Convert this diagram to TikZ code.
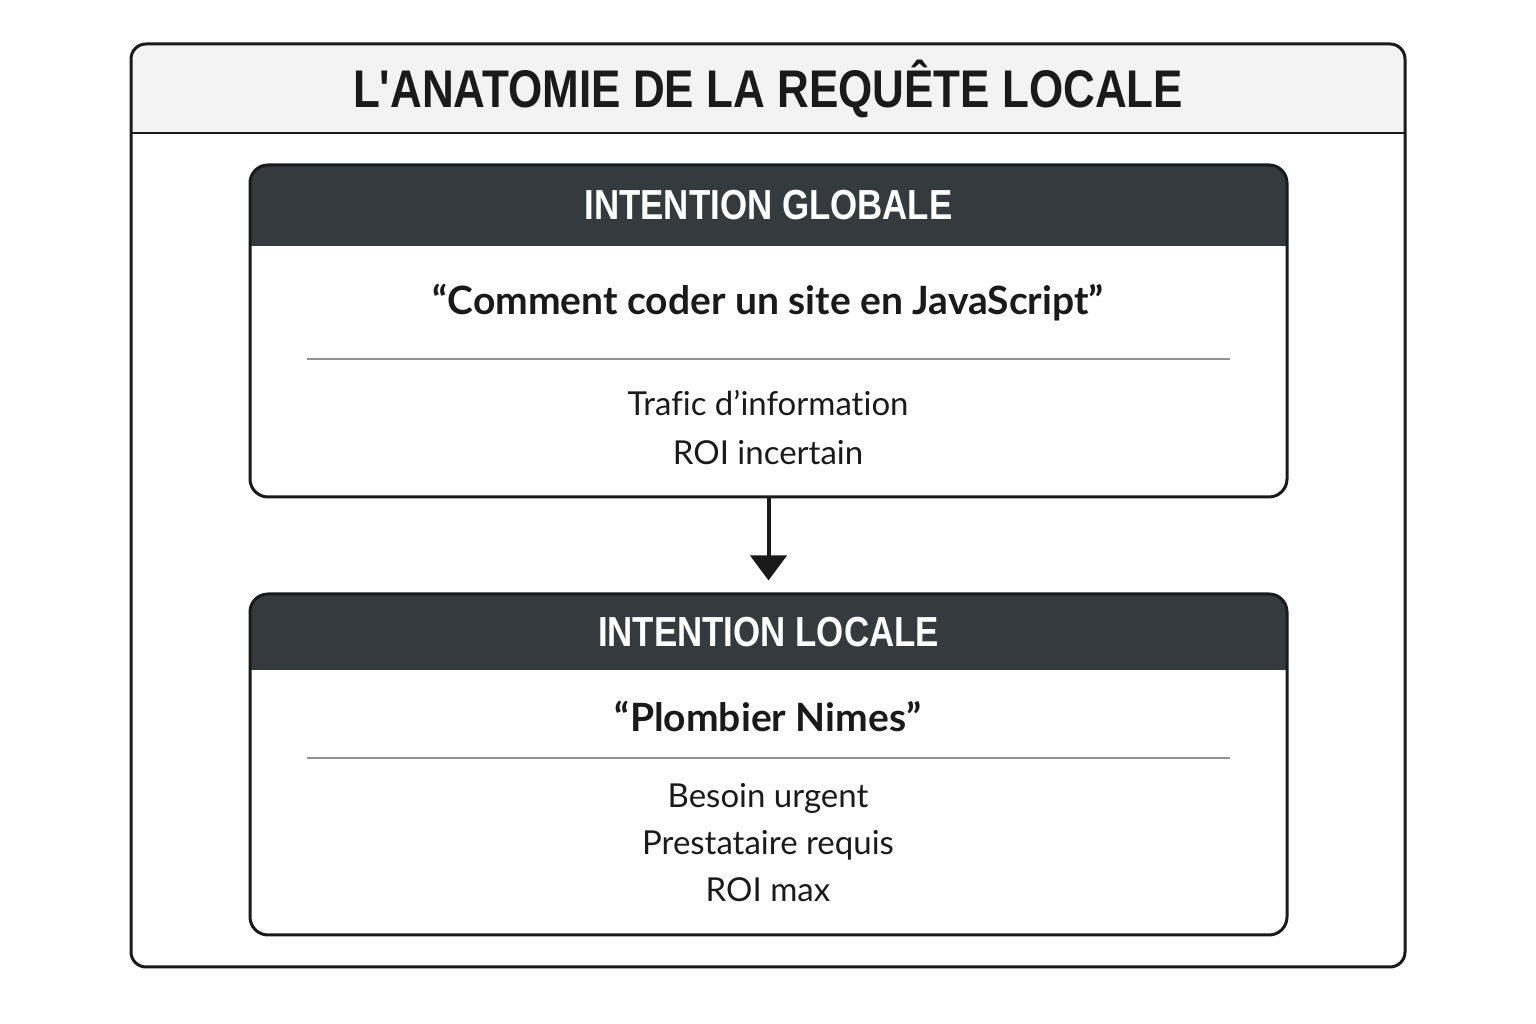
\documentclass[tikz,border=0pt]{standalone}
\usepackage{fontspec}
\setmainfont{Lato}[Ligatures={TeX,NoCommon}]
\newfontfamily\headfont{Liberation Sans}[FakeStretch=0.83]
\usetikzlibrary{arrows.meta,positioning}
\definecolor{hdrgray}{HTML}{353A3F}
\definecolor{bandgray}{HTML}{F3F3F3}
\definecolor{inkblack}{HTML}{1A1A1A}

\begin{document}
\begin{tikzpicture}[x=1pt, y=1pt, inkblack,
  frame/.style={draw, line width=3pt, rounded corners=15pt},
  panel/.style={draw, line width=3pt, rounded corners=18pt, minimum width=1037pt,
                inner sep=0pt, path picture={\fill[hdrgray, sharp corners]
                (path picture bounding box.north west) rectangle
                ([yshift=-#1]path picture bounding box.north east);}},
  titletxt/.style={font=\headfont\bfseries\fontsize{53}{60}\selectfont},
  hdr/.style={font=\headfont\bfseries\fontsize{42}{48}\selectfont, text=white},
  quote/.style={font=\bfseries\fontsize{39}{46}\selectfont},
  info/.style={font=\fontsize{33}{#1}\selectfont, align=center},
  rule/.style={draw=gray!85, line width=1.5pt},
  arr/.style={-{Triangle[length=25pt, width=36pt]}, line width=4pt}]
  \useasboundingbox (0,0) rectangle (1536,1024);

  % outer frame with title band
  \begin{scope}
    \clip[rounded corners=15pt] (131,57) rectangle (1405,980);
    \fill[bandgray] (131,891) rectangle (1405,980);
  \end{scope}
  \draw[frame] (131,57) rectangle (1405,980);
  \draw[line width=2.5pt] (131,891) -- (1405,891);
  \node[titletxt] (title) at (768,935) {L{\char"0027}ANATOMIE DE LA REQUÊTE LOCALE};

  % global intent
  \node[panel=81pt, minimum height=332pt] (glob) at (768.5,693) {};
  \node[hdr] (globhd) at ([yshift=-42pt]glob.north) {INTENTION GLOBALE};
  \node[quote] (globq) at (768,721) {“Comment coder un site en JavaScript”};
  \draw[rule] (307,665) -- (1230,665);
  \node[info=49pt] (globi) at (768,596) {Trafic d’information\\ROI incertain};

  % local intent
  \node[panel=76pt, minimum height=341pt] (loc) at (768.5,259.5) {};
  \node[hdr] (lochd) at ([yshift=-40pt]loc.north) {INTENTION LOCALE};
  \node[quote] (locq) at (768,308) {“Plombier Nimes”};
  \draw[rule] (307,266) -- (1230,266);
  \node[info=47pt] (loci) at (768,181) {Besoin urgent\\Prestataire requis\\ROI max};

  \draw[arr, shorten >=12pt] (glob.south) -- (loc.north);
\end{tikzpicture}
\end{document}
